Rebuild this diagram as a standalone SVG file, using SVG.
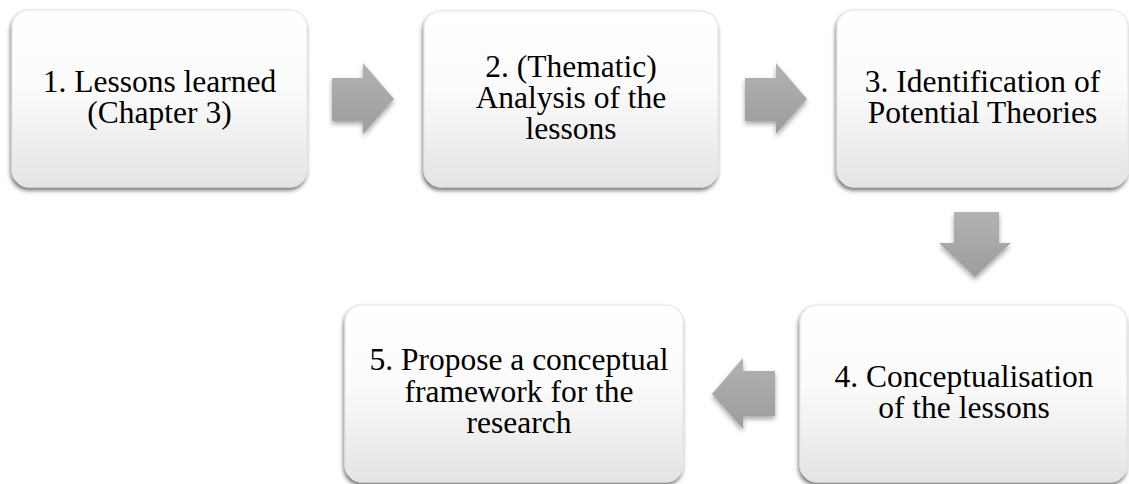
<svg xmlns="http://www.w3.org/2000/svg" width="1129" height="484" viewBox="0 0 1129 484">
  <defs>
    <linearGradient id="boxFill" x1="0" y1="0" x2="0" y2="1">
      <stop offset="0" stop-color="#ffffff"/>
      <stop offset="0.45" stop-color="#fbfbfb"/>
      <stop offset="1" stop-color="#e4e4e4"/>
    </linearGradient>
    <linearGradient id="arrowFill" x1="0" y1="0" x2="0" y2="1">
      <stop offset="0" stop-color="#b2b2b2"/>
      <stop offset="1" stop-color="#9d9d9d"/>
    </linearGradient>
    <filter id="boxShadow" x="-10%" y="-10%" width="120%" height="125%">
      <feDropShadow dx="-1" dy="3" stdDeviation="2.2" flood-color="#000000" flood-opacity="0.55"/>
    </filter>
    <filter id="arrowShadow" x="-20%" y="-20%" width="140%" height="150%">
      <feDropShadow dx="0" dy="3" stdDeviation="2.5" flood-color="#000000" flood-opacity="0.35"/>
    </filter>
  </defs>
  <style>
    .box { fill: url(#boxFill); stroke: #e2e2e2; stroke-width: 1; filter: url(#boxShadow); }
    .arrow { fill: url(#arrowFill); filter: url(#arrowShadow); }
    .label { font-family: "Liberation Serif", "Times New Roman", serif; font-size: 31.5px; fill: #000000; text-anchor: middle; }
  </style>
  <rect width="1129" height="484" fill="#ffffff"/>

  <!-- connectors: block arrows between steps -->
  <g id="connectors">
    <path class="arrow" d="M332 78 H363 V63 L394 99 L363 134 V121 H332 Z"/>
    <path class="arrow" d="M745 78 H776 V63 L807 99 L776 134 V121 H745 Z"/>
    <path class="arrow" d="M954 212 H999 V243 H1011 L975 277 L939 243 H954 Z"/>
    <path class="arrow" d="M775 371 H743 V358 L712 394 L743 429 V416 H775 Z"/>
  </g>

  <g id="step1">
    <rect class="box" x="12" y="10" width="295" height="177" rx="17"/>
    <text class="label" x="159.5" y="92">1. Lessons learned</text>
    <text class="label" x="159.5" y="123">(Chapter 3)</text>
  </g>

  <g id="step2">
    <rect class="box" x="424" y="11" width="294" height="176" rx="17"/>
    <text class="label" x="571" y="77">2. (Thematic)</text>
    <text class="label" x="571" y="108">Analysis of the</text>
    <text class="label" x="571" y="139">lessons</text>
  </g>

  <g id="step3">
    <rect class="box" x="837" y="10" width="291" height="177" rx="17"/>
    <text class="label" x="982.5" y="92">3. Identification of</text>
    <text class="label" x="982.5" y="123">Potential Theories</text>
  </g>

  <g id="step4">
    <rect class="box" x="800" y="305" width="327" height="177" rx="17"/>
    <text class="label" x="964" y="387">4. Conceptualisation</text>
    <text class="label" x="964" y="418">of the lessons</text>
  </g>

  <g id="step5">
    <rect class="box" x="345" y="305" width="338" height="177" rx="17"/>
    <text class="label" x="519" y="370">5. Propose a conceptual</text>
    <text class="label" x="519" y="402">framework for the</text>
    <text class="label" x="519" y="433">research</text>
  </g>
</svg>
